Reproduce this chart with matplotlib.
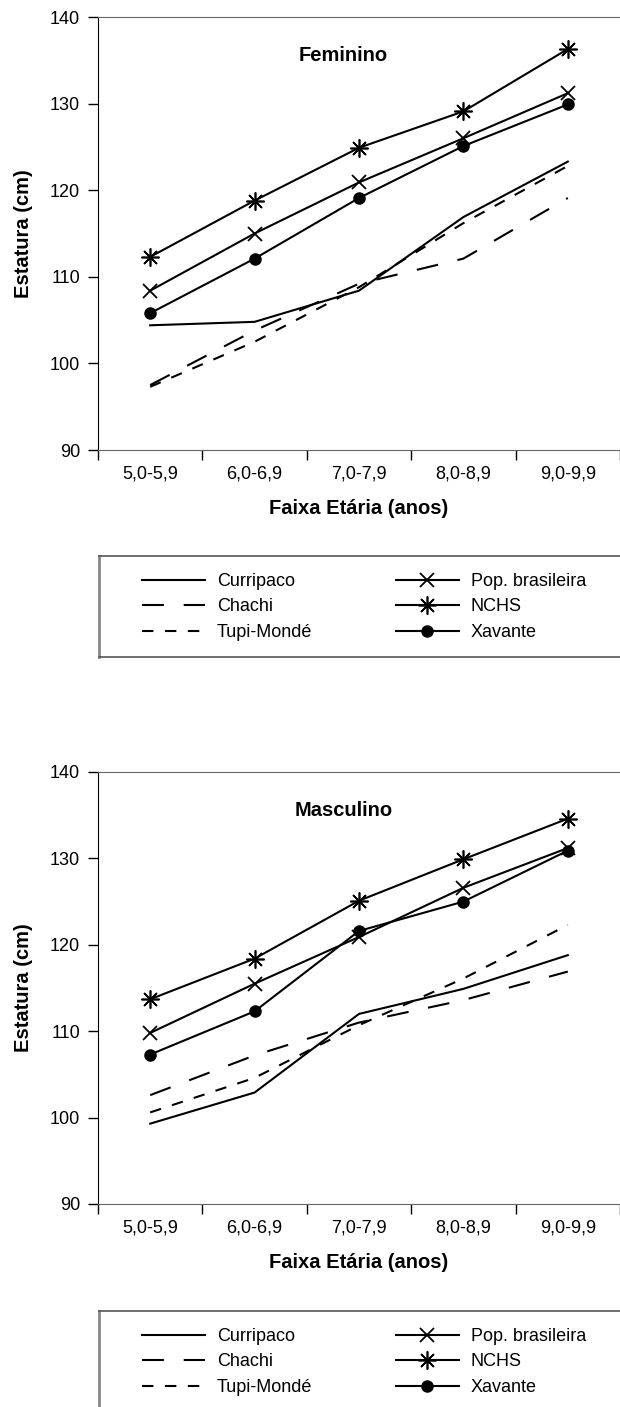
import matplotlib.pyplot as plt

plt.rcParams["font.family"] = ["Liberation Sans", "DejaVu Sans"]

faixas = ["5,0-5,9", "6,0-6,9", "7,0-7,9", "8,0-8,9", "9,0-9,9"]
series_names = ["Curripaco", "Chachi", "Tupi-Mondé", "Pop. brasileira", "NCHS", "Xavante"]

# Feminino
curripaco_f = [104.4, 104.8, 108.4, 116.9, 123.3]
chachi_f = [97.5, 103.8, 109.2, 112.1, 119.1]
tupi_f = [97.3, 102.5, 108.8, 116.2, 122.8]
pop_f = [108.4, 115.0, 120.9, 126.0, 131.2]
nchs_f = [112.3, 118.8, 124.9, 129.1, 136.3]
xavante_f = [105.8, 112.1, 119.1, 125.1, 129.9]

# Masculino
curripaco_m = [99.3, 102.9, 112.0, 114.9, 118.8]
chachi_m = [102.6, 107.2, 111.0, 113.6, 116.9]
tupi_m = [100.6, 104.6, 110.7, 116.1, 122.3]
pop_m = [109.8, 115.5, 120.9, 126.6, 131.2]
nchs_m = [113.7, 118.4, 125.1, 129.9, 134.6]
xavante_m = [107.3, 112.3, 121.6, 125.0, 130.9]

LW = 1.5
styles = [
    dict(color="black", lw=LW, ls="-"),
    dict(color="black", lw=LW, ls=(0, (10.5, 9.5))),
    dict(color="black", lw=LW, ls=(0, (5.5, 5.5))),
    dict(color="black", lw=LW, ls="-", marker="x", ms=10, mew=1.3),
    dict(color="black", lw=LW, ls="-", marker=(8, 2, 0), ms=13, mew=1.2),
    dict(color="black", lw=LW, ls="-", marker="o", ms=8),
]

W, H = 620, 1407
fig = plt.figure(figsize=(W / 100, H / 100), dpi=100)


def fbox(x0, y0, x1, y1):
    # pixel box (top-left origin) -> figure fraction rect
    return [x0 / W, 1 - y1 / H, (x1 - x0) / W, (y1 - y0) / H]


def draw_panel(top_px, bottom_px, title, data):
    ax = fig.add_axes(fbox(98, top_px, 620, bottom_px))
    x = list(range(len(faixas)))
    handles = []
    for name, vals, st in zip(series_names, data, styles):
        (h,) = ax.plot(x, vals, label=name, **st)
        handles.append(h)
    ax.set_xlim(-0.5, 4.5)
    ax.set_ylim(90, 140)
    ax.set_yticks([90, 100, 110, 120, 130, 140])
    ax.tick_params(axis="y", direction="out", length=7.5, width=1, pad=5.5, labelsize=13)
    ax.set_xticks([-0.5, 0.5, 1.5, 2.5, 3.5, 4.5])
    ax.set_xticklabels([])
    ax.tick_params(axis="x", which="major", direction="out", length=7.5, width=1)
    ax.set_xticks(x, minor=True)
    ax.set_xticklabels(faixas, minor=True)
    ax.tick_params(axis="x", which="minor", length=0, pad=11, labelsize=13)
    ax.spines["right"].set_visible(False)
    ax.spines["top"].set_color("#666666")
    ax.spines["bottom"].set_color("#666666")
    ax.spines["left"].set_color("black")
    ax.set_xlabel("Faixa Etária (anos)", fontsize=14.5, fontweight="bold", labelpad=12)
    ax.set_ylabel("Estatura (cm)", fontsize=14.5, fontweight="bold", labelpad=12)
    ax.text(0.47, 0.91, title, transform=ax.transAxes, ha="center", va="center",
            fontsize=14.5, fontweight="bold")
    return ax, handles


def draw_legend(top_px, bottom_px, handles):
    lax = fig.add_axes(fbox(99, top_px, 640, bottom_px))
    lax.set_xticks([])
    lax.set_yticks([])
    for s in lax.spines.values():
        s.set_color("#555555")
        s.set_linewidth(1.2)
    lax.spines["left"].set_color("#888888")
    lax.spines["left"].set_linewidth(2)
    lax.set_facecolor("none")
    fig.legend(handles=handles, ncol=2, loc="upper left",
               bbox_to_anchor=(142 / W, 1 - (top_px + 17) / H),
               frameon=False, fontsize=13, handlelength=3.5, handletextpad=0.66,
               columnspacing=4.6, labelspacing=0.47, borderpad=0, borderaxespad=0)


ax1, h1 = draw_panel(17, 450, "Feminino",
                     [curripaco_f, chachi_f, tupi_f, pop_f, nchs_f, xavante_f])
draw_legend(556, 657, h1)

ax2, h2 = draw_panel(772, 1204, "Masculino",
                     [curripaco_m, chachi_m, tupi_m, pop_m, nchs_m, xavante_m])
draw_legend(1311, 1420, h2)

fig.savefig("out.png", dpi=100)
